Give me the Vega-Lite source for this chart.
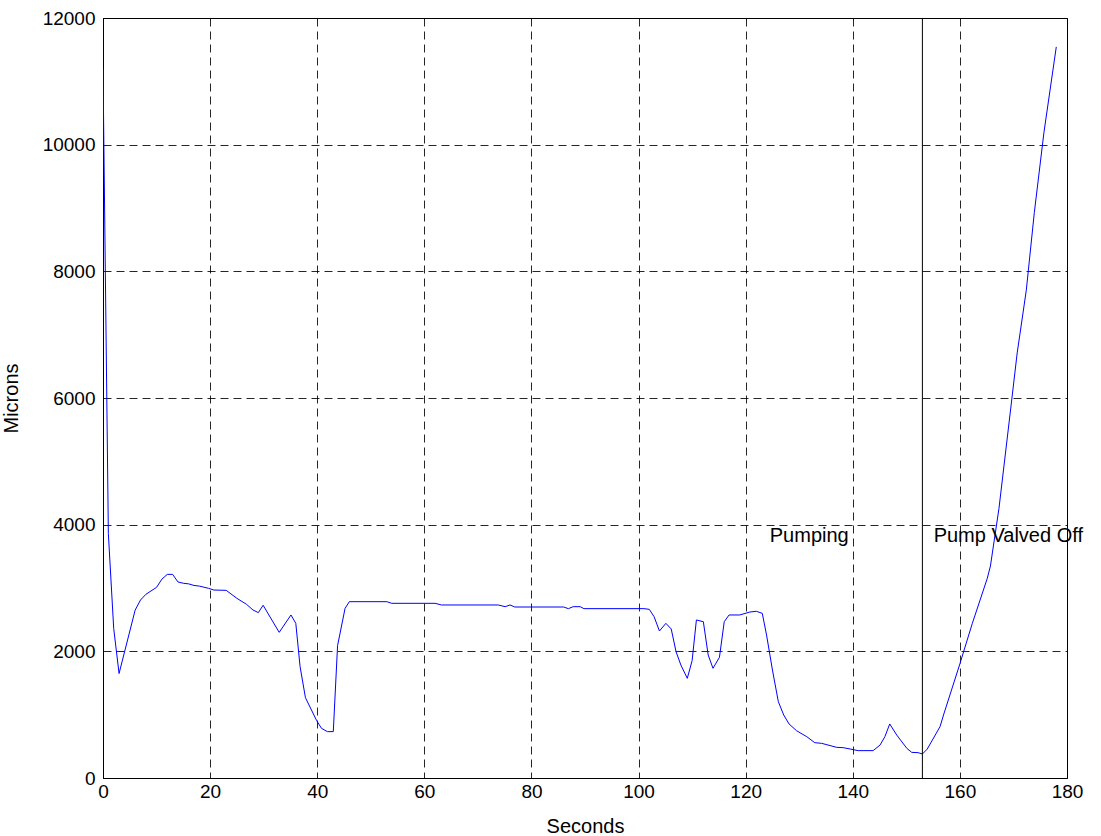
{
  "$schema": "https://vega.github.io/schema/vega-lite/v6.json",
  "width": 964,
  "height": 760,
  "autosize": {"type": "none"},
  "padding": {"left": 103, "top": 18, "right": 34, "bottom": 58},
  "background": "white",
  "config": {
    "view": {"stroke": "black", "strokeWidth": 1},
    "font": "Liberation Sans",
    "axis": {
      "grid": true,
      "gridColor": "black",
      "gridDash": [8, 5],
      "gridWidth": 1,
      "gridOpacity": 0.85,
      "ticks": false,
      "labelFlush": false,
      "labelOverlap": false,
      "domainColor": "black",
      "labelFont": "Liberation Sans",
      "labelFontSize": 19,
      "labelColor": "black",
      "titleFont": "Liberation Sans",
      "titleFontSize": 20,
      "titleFontWeight": "normal",
      "titleColor": "black"
    }
  },
  "datasets": {
    "trace": [
      {"t": 0, "m": 11200}, {"t": 1, "m": 3860}, {"t": 2, "m": 2360}, {"t": 3, "m": 1650},
      {"t": 6, "m": 2650}, {"t": 7, "m": 2810}, {"t": 8, "m": 2900}, {"t": 10, "m": 3010},
      {"t": 11, "m": 3140}, {"t": 12, "m": 3215}, {"t": 13, "m": 3215}, {"t": 14, "m": 3095},
      {"t": 15, "m": 3075}, {"t": 16, "m": 3065}, {"t": 17, "m": 3040}, {"t": 18, "m": 3030},
      {"t": 19.7, "m": 2995}, {"t": 20.7, "m": 2968}, {"t": 23, "m": 2963}, {"t": 25, "m": 2837},
      {"t": 26.8, "m": 2742}, {"t": 28, "m": 2653}, {"t": 29, "m": 2611}, {"t": 29.9, "m": 2727},
      {"t": 32.9, "m": 2300}, {"t": 35.1, "m": 2574}, {"t": 36, "m": 2442}, {"t": 36.8, "m": 1758},
      {"t": 37.8, "m": 1268}, {"t": 39.9, "m": 905}, {"t": 40.8, "m": 784}, {"t": 41.9, "m": 732},
      {"t": 43, "m": 732}, {"t": 43.8, "m": 2090}, {"t": 45.2, "m": 2679}, {"t": 46, "m": 2784},
      {"t": 53, "m": 2784}, {"t": 53.9, "m": 2758}, {"t": 62, "m": 2758}, {"t": 63.2, "m": 2732},
      {"t": 73.8, "m": 2732}, {"t": 75.1, "m": 2705}, {"t": 76, "m": 2732}, {"t": 76.9, "m": 2700},
      {"t": 86, "m": 2700}, {"t": 86.9, "m": 2674}, {"t": 87.8, "m": 2705}, {"t": 89.1, "m": 2705},
      {"t": 89.8, "m": 2674}, {"t": 101, "m": 2674}, {"t": 102, "m": 2663}, {"t": 102.9, "m": 2547},
      {"t": 103.9, "m": 2321}, {"t": 105.1, "m": 2442}, {"t": 106.1, "m": 2353}, {"t": 107, "m": 1995},
      {"t": 107.9, "m": 1784}, {"t": 109.1, "m": 1574}, {"t": 110, "m": 1853}, {"t": 110.8, "m": 2495},
      {"t": 112.1, "m": 2468}, {"t": 113, "m": 1942}, {"t": 113.9, "m": 1732}, {"t": 115.1, "m": 1905},
      {"t": 116, "m": 2468}, {"t": 116.9, "m": 2574}, {"t": 118.9, "m": 2574}, {"t": 120.8, "m": 2621},
      {"t": 122, "m": 2632}, {"t": 123.1, "m": 2600}, {"t": 123.9, "m": 2258}, {"t": 125, "m": 1705},
      {"t": 126.1, "m": 1205}, {"t": 127.1, "m": 995}, {"t": 128.1, "m": 853}, {"t": 129.5, "m": 747},
      {"t": 131.4, "m": 653}, {"t": 132.9, "m": 558}, {"t": 134.2, "m": 547}, {"t": 137, "m": 484},
      {"t": 138.2, "m": 479}, {"t": 139.5, "m": 458}, {"t": 141, "m": 432}, {"t": 143.8, "m": 432},
      {"t": 145.1, "m": 521}, {"t": 146, "m": 653}, {"t": 146.9, "m": 853}, {"t": 148.2, "m": 679},
      {"t": 150.1, "m": 468}, {"t": 151, "m": 405}, {"t": 152.2, "m": 400}, {"t": 153, "m": 379},
      {"t": 153.9, "m": 456}, {"t": 156.3, "m": 812}, {"t": 157, "m": 1010}, {"t": 160, "m": 1802},
      {"t": 162.3, "m": 2436}, {"t": 165.1, "m": 3148}, {"t": 165.7, "m": 3346}, {"t": 167.3, "m": 4257},
      {"t": 169.5, "m": 5841}, {"t": 170.7, "m": 6712}, {"t": 172.4, "m": 7702}, {"t": 173.9, "m": 8930},
      {"t": 175.7, "m": 10197}, {"t": 178, "m": 11544}
    ],
    "marker": [{"t": 153, "m0": 0, "m1": 12000}],
    "labels": [
      {"t": 124.5, "m": 3720, "label": "Pumping"},
      {"t": 155.1, "m": 3720, "label": "Pump Valved Off"}
    ]
  },
  "layer": [
    {
      "data": {"name": "trace"},
      "mark": {"type": "line", "color": "#0000ff", "strokeWidth": 1, "clip": true},
      "encoding": {
        "x": {
          "field": "t", "type": "quantitative",
          "scale": {"domain": [0, 180], "nice": false, "zero": false},
          "axis": {
            "title": "Seconds",
            "values": [0, 20, 40, 60, 80, 100, 120, 140, 160, 180],
            "format": "d",
            "labelPadding": 4,
            "labelBaseline": "top",
            "titleY": 54,
            "titleBaseline": "alphabetic"
          }
        },
        "y": {
          "field": "m", "type": "quantitative",
          "scale": {"domain": [0, 12000], "nice": false},
          "axis": {
            "title": "Microns",
            "values": [0, 2000, 4000, 6000, 8000, 10000, 12000],
            "format": "d",
            "labelPadding": 8,
            "titleX": -92,
            "titleY": 380,
            "titleAngle": -90,
            "titleAlign": "center",
            "titleBaseline": "middle"
          }
        }
      }
    },
    {
      "data": {"name": "marker"},
      "mark": {"type": "rule", "color": "black", "strokeWidth": 1},
      "encoding": {
        "x": {"field": "t", "type": "quantitative"},
        "y": {"field": "m0", "type": "quantitative"},
        "y2": {"field": "m1"}
      }
    },
    {
      "data": {"name": "labels"},
      "mark": {"type": "text", "align": "left", "baseline": "alphabetic", "font": "Liberation Sans", "fontSize": 20, "color": "black"},
      "encoding": {
        "x": {"field": "t", "type": "quantitative"},
        "y": {"field": "m", "type": "quantitative"},
        "text": {"field": "label"}
      }
    }
  ]
}
